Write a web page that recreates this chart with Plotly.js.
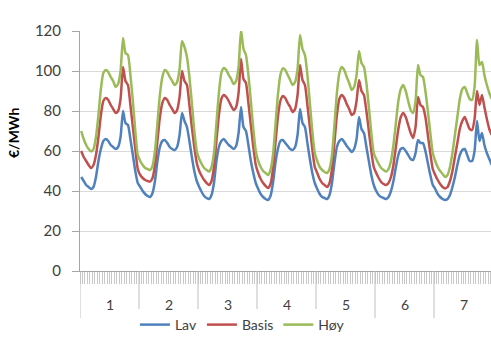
<!DOCTYPE html>
<html>
<head>
<meta charset="utf-8">
<script src="https://cdn.plot.ly/plotly-3.0.1.min.js"></script>
<style>
html,body{margin:0;padding:0;overflow:hidden;background:#fff;}
#chart{width:493px;height:351px;}
</style>
</head>
<body>
<div id="chart"></div>
<script>
// Day labels (x-axis categories, 24 hours each)
const dayLabels = ['1','2','3','4','5','6','7'];
const hoursPerDay = 24;
const seriesNames = ['Lav','Basis','Høy'];
const yTitle = '€/MWh';

// €/MWh, hourly values
const lav = [
  47,45,43,42,41,42,47,55,61,65,66,65,63,62,61,62,67,80,74,73,66,58,50,44,
  42,40,38.5,37.5,37,39,45,55,62,65,65.5,64,62,61,60.5,62,68,79,75,72,65,57,50,45,
  42,39.5,37.5,36.5,36,38,44,55,62,65,66,64.5,63,62,61,62.5,69,82,72,70,63,55,49,44,
  41,38.5,37,36,35.5,37.5,44,54,61,65,65.5,64,62.5,61,60.5,62,68,81,74,72,64,56,49,44,
  41,38.5,37,36.5,36,38,44,54,62,65,66,64.5,62.5,61,59.5,61,66,77,71,69,62,55,48,43,
  40,38,37,36.5,36,37,40,45,52,58,61,61.5,60,58,56,55.5,59,65.5,64,64,60,54,48,43,
  41,38.5,37,36,35.5,36,38,42,47,53,58,60.5,61,58,55,55,60,75,65,69,63,59,56,53
];
const basis = [
  60,57,55,53,51.5,53,58,67,78,85,86.5,85.5,83,81,79,80,86,102,95,93,83,72,61,51,
  48,46.5,45.5,45,44.7,46.5,53,65,77,84,86.5,85.5,83,81,79,80.5,87,100,95,93,83,72,62,54,
  50,47.5,45.5,44,43,45,52,65,78,86,88,87,85,82.5,80.5,82,89,106,96,94,84,73,62,53,
  49,46,44,42.5,41.5,43.5,51,64,77,85,87.5,86.5,84,82,79.5,81,88,103,95.5,93,83,72,61,52,
  49,46,44,43,42,44,51,64,78,86,88,86.5,83.5,81,78,79,85,95.5,90,88,80,70,60,52,
  49,46.5,44.5,43.5,43,44,47,53,62,71,77,79,77,73,69,66.5,72,87,83,82,77,68,59,51,
  48,45.5,43.5,42,41.3,42,45,50,57,64,71,75,77,74,71,70.5,76,90,83,88,82,76,71,68
];
const hoy = [
  70,66,63,61,59.7,61,67,78,91,99,100.5,99.5,97,95,92,93.5,100,116.5,109,108,98,85,70,58,
  55,53,51.5,51,50.5,52.5,60,74,88,97,100.5,99.5,97,95,93,94.5,101,115,112,107,97,84,70,60,
  56,53.5,51.5,50.5,49.7,52,59,74,89,99,101.5,100.5,98,96,93.5,95,102,120.5,111,108,98,85,71,60,
  55,52,50,49,48,50.5,58,73,88,98,101.3,100.5,98,95.5,93,94.5,101,118,111,108,98,84,70,59,
  55,52,50.5,49.5,49,51,58,73,89,99,102,100.5,97,94,90.5,92,98,110,104,102,94,82,69,59,
  56,53.5,51.5,50.5,49.7,51,55,63,74,85,91,93,90,85,80.5,79,85,103,98,97,90,80,69,59,
  55,52,50,48.5,47,48,52,59,68,77,86,91,92,89,86,85.5,92,115.5,103,104.5,98,93,89,86
];
const colors = ['#4F81BD','#C0504D','#9BBB59'];
const yTicks = [0,20,40,60,80,100,120];

const xIdx = lav.map((_, i) => i);
const seriesData = [lav, basis, hoy];
const traces = seriesData.map((ys, k) => ({
  x: xIdx, y: ys, type: 'scatter', mode: 'lines', name: seriesNames[k],
  line: {color: colors[k], width: 2.5, shape: 'spline', smoothing: 0.6}
}));

const nHours = lav.length;
const shapes = [];
for (let d = 0; d <= dayLabels.length; d++) {
  shapes.push({type:'line', xref:'x', yref:'paper', x0:d*hoursPerDay-0.5, x1:d*hoursPerDay-0.5,
    y0:0, y1:-0.196, line:{color:'#BFBFBF', width:1}});
}
const FONT = 'Lato, "Open Sans", sans-serif';
const annotations = dayLabels.map((t, d) => ({
  text: t, xref:'x', yref:'paper', x: d*hoursPerDay + (hoursPerDay-1)/2, y:-0.1375,
  showarrow:false, yanchor:'middle', xanchor:'center',
  font:{family:FONT, size:14, color:'#404040'}
}));
annotations.push({
  text: '<b>' + yTitle + '</b>', xref:'paper', yref:'paper', x:-67/413, y:0.575,
  textangle:-90, showarrow:false, xanchor:'center', yanchor:'middle',
  font:{family:FONT, size:14, color:'#000'}
});

const layout = {
  width: 493, height: 351,
  margin: {l:80, r:0, t:31, b:80},
  paper_bgcolor:'#fff', plot_bgcolor:'#fff',
  font:{family:FONT, color:'#404040'},
  showlegend: true,
  legend:{orientation:'h', x:0.133, xanchor:'left', y:-0.225, yanchor:'middle',
    font:{size:14, color:'#404040'}, itemwidth:30, tracegroupgap:0},
  xaxis:{range:[-0.5, nHours-0.5], showgrid:false, zeroline:false, showticklabels:false,
    tickmode:'linear', tick0:-0.5, dtick:1, ticks:'outside', ticklen:12, tickwidth:1,
    tickcolor:'#C8C8C8', showline:true, linecolor:'#A6A6A6', linewidth:1, fixedrange:true},
  yaxis:{range:[0,120], tickvals:yTicks, ticktext:yTicks.map(String), showgrid:true,
    gridcolor:'#D9D9D9', gridwidth:1, zeroline:false, showline:true, linecolor:'#A6A6A6',
    ticks:'outside', ticklen:7, tickcolor:'#A6A6A6', ticklabelstandoff:8,
    tickfont:{size:15, color:'#404040'}, fixedrange:true},
  shapes: shapes, annotations: annotations
};
Plotly.newPlot('chart', traces, layout, {staticPlot:true, displayModeBar:false});
</script>
</body>
</html>
